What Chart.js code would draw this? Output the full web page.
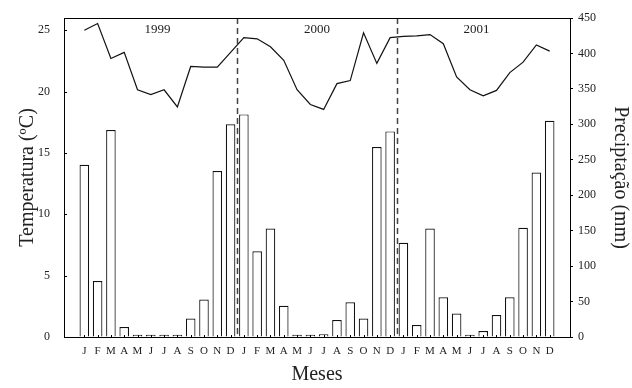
<!DOCTYPE html>
<html>
<head>
<meta charset="utf-8">
<script src="https://cdn.jsdelivr.net/npm/chart.js@4"></script>
<style>
  html, body { margin: 0; padding: 0; background: #fff; }
  #wrap { width: 632px; height: 388px; }
</style>
</head>
<body>
<div id="wrap"><canvas id="grafico"></canvas></div>
<script>
const meses = ["J", "F", "M", "A", "M", "J", "J", "A", "S", "O", "N", "D"];
const anos = ["1999", "2000", "2001"];

// temperatura média mensal (ºC)
const temperatura = [
    25.0, 25.55, 22.7, 23.2, 20.15, 19.75, 20.15, 18.75, 22.05, 22.0, 22.0, 23.2,
    24.4, 24.3, 23.65, 22.55, 20.15, 18.95, 18.55, 20.65, 20.9, 24.8, 22.3, 24.4,
    24.5, 24.55, 24.65, 23.9, 21.2, 20.15, 19.65, 20.1, 21.55, 22.4, 23.8, 23.3
];

// precipitação mensal (mm)
const precipitacao = [
    243, 79, 292, 14, 3, 3, 3, 3, 26, 53, 234, 300,
    314, 121, 153, 44, 3, 3, 4, 24, 49, 26, 268, 290,
    133, 17, 153, 56, 33, 3, 8.5, 31, 56, 154, 232, 305
];

// separação entre anos
const divisoes = [11.5, 23.5];

const rotulosMeses = anos.flatMap(() => meses);
const fonte = "'Liberation Serif', 'DejaVu Serif', serif";
const corTexto = '#222';

const molduraPlugin = {
    id: 'moldura',
    afterDatasetsDraw(chart) {
        const { ctx, chartArea: a, scales } = chart;
        const x = scales.x;
        ctx.save();

        // linhas tracejadas entre os anos
        ctx.strokeStyle = '#444';
        ctx.lineWidth = 1.5;
        ctx.setLineDash([6, 4]);
        divisoes.forEach(v => {
            const px = Math.round(x.getPixelForValue(v)) + 0.5;
            ctx.beginPath();
            ctx.moveTo(px, a.top);
            ctx.lineTo(px, a.bottom);
            ctx.stroke();
        });
        ctx.setLineDash([]);

        // moldura
        ctx.strokeStyle = '#000';
        ctx.lineWidth = 1;
        ctx.strokeRect(a.left + 0.5, a.top + 0.5, a.right - a.left, a.bottom - a.top);

        // marcas internas (eixo esquerdo e inferior)
        ctx.beginPath();
        scales.yT.ticks.forEach(t => {
            const py = Math.round(scales.yT.getPixelForValue(t.value)) + 0.5;
            ctx.moveTo(a.left, py);
            ctx.lineTo(a.left + 3, py);
        });
        rotulosMeses.forEach((m, i) => {
            const px = Math.round(x.getPixelForValue(i)) + 0.5;
            ctx.moveTo(px, a.bottom);
            ctx.lineTo(px, a.bottom - 2);
        });
        ctx.stroke();

        // anos
        ctx.fillStyle = corTexto;
        ctx.font = "13px " + fonte;
        ctx.textAlign = 'center';
        ctx.textBaseline = 'middle';
        anos.forEach((ano, k) => {
            ctx.fillText(ano, x.getPixelForValue(k * 12 + 5.5), a.top + 12);
        });
        ctx.restore();
    }
};

new Chart(document.getElementById('grafico'), {
    data: {
        datasets: [
            {
                type: 'line',
                label: 'Temperatura',
                data: temperatura.map((v, i) => ({ x: i, y: v })),
                yAxisID: 'yT',
                borderColor: '#111',
                borderWidth: 1.2,
                pointRadius: 0,
                tension: 0,
                order: 0
            },
            {
                type: 'bar',
                label: 'Precipitação',
                data: precipitacao.map((v, i) => ({ x: i, y: v })),
                yAxisID: 'yP',
                backgroundColor: '#fff',
                borderColor: '#111',
                borderWidth: 1.2,
                barPercentage: 0.9,
                categoryPercentage: 0.8,
                order: 1
            }
        ]
    },
    options: {
        responsive: true,
        maintainAspectRatio: false,
        animation: false,
        layout: { padding: { left: 0, right: 0, top: 18, bottom: 0 } },
        plugins: {
            legend: { display: false },
            tooltip: { enabled: false }
        },
        scales: {
            x: {
                type: 'linear',
                min: -1,
                max: 36,
                afterBuildTicks: axis => { axis.ticks = rotulosMeses.map((m, i) => ({ value: i })); },
                afterFit: scale => { scale.height = 51; },
                grid: { display: false, drawTicks: false },
                border: { display: false },
                ticks: {
                    autoSkip: false,
                    maxRotation: 0,
                    padding: 8,
                    color: corTexto,
                    font: { family: fonte, size: 11 },
                    callback: (value) => rotulosMeses[value] || ''
                },
                title: {
                    display: true,
                    text: 'Meses',
                    color: corTexto,
                    font: { family: fonte, size: 20 },
                    padding: { top: 0, bottom: 1 }
                }
            },
            yT: {
                position: 'left',
                min: 0,
                max: 26,
                afterBuildTicks: axis => { axis.ticks = [0, 5, 10, 15, 20, 25].map(v => ({ value: v })); },
                afterFit: scale => {
                    scale.width = 64;
                    scale.paddingTop = 0;
                    scale.paddingBottom = 0;
                },
                grid: { drawOnChartArea: false, drawTicks: false },
                border: { display: false },
                ticks: {
                    padding: 14,
                    color: corTexto,
                    font: { family: fonte, size: 12 }
                },
                title: {
                    display: true,
                    text: 'Temperatura (ºC)',
                    color: corTexto,
                    font: { family: fonte, size: 20 },
                    padding: { top: 16, bottom: 0 }
                }
            },
            yP: {
                position: 'right',
                min: 0,
                max: 450,
                ticks: {
                    stepSize: 50,
                    padding: 5,
                    color: corTexto,
                    font: { family: fonte, size: 12 }
                },
                afterFit: scale => {
                    scale.width = 62;
                    scale.paddingTop = 0;
                    scale.paddingBottom = 0;
                },
                grid: { drawOnChartArea: false, drawTicks: true, tickLength: 3, color: '#000' },
                border: { display: false },
                title: {
                    display: true,
                    text: 'Preciptação (mm)',
                    color: corTexto,
                    font: { family: fonte, size: 20 },
                    padding: { top: 0, bottom: 0 }
                }
            }
        }
    },
    plugins: [molduraPlugin]
});
</script>
</body>
</html>
